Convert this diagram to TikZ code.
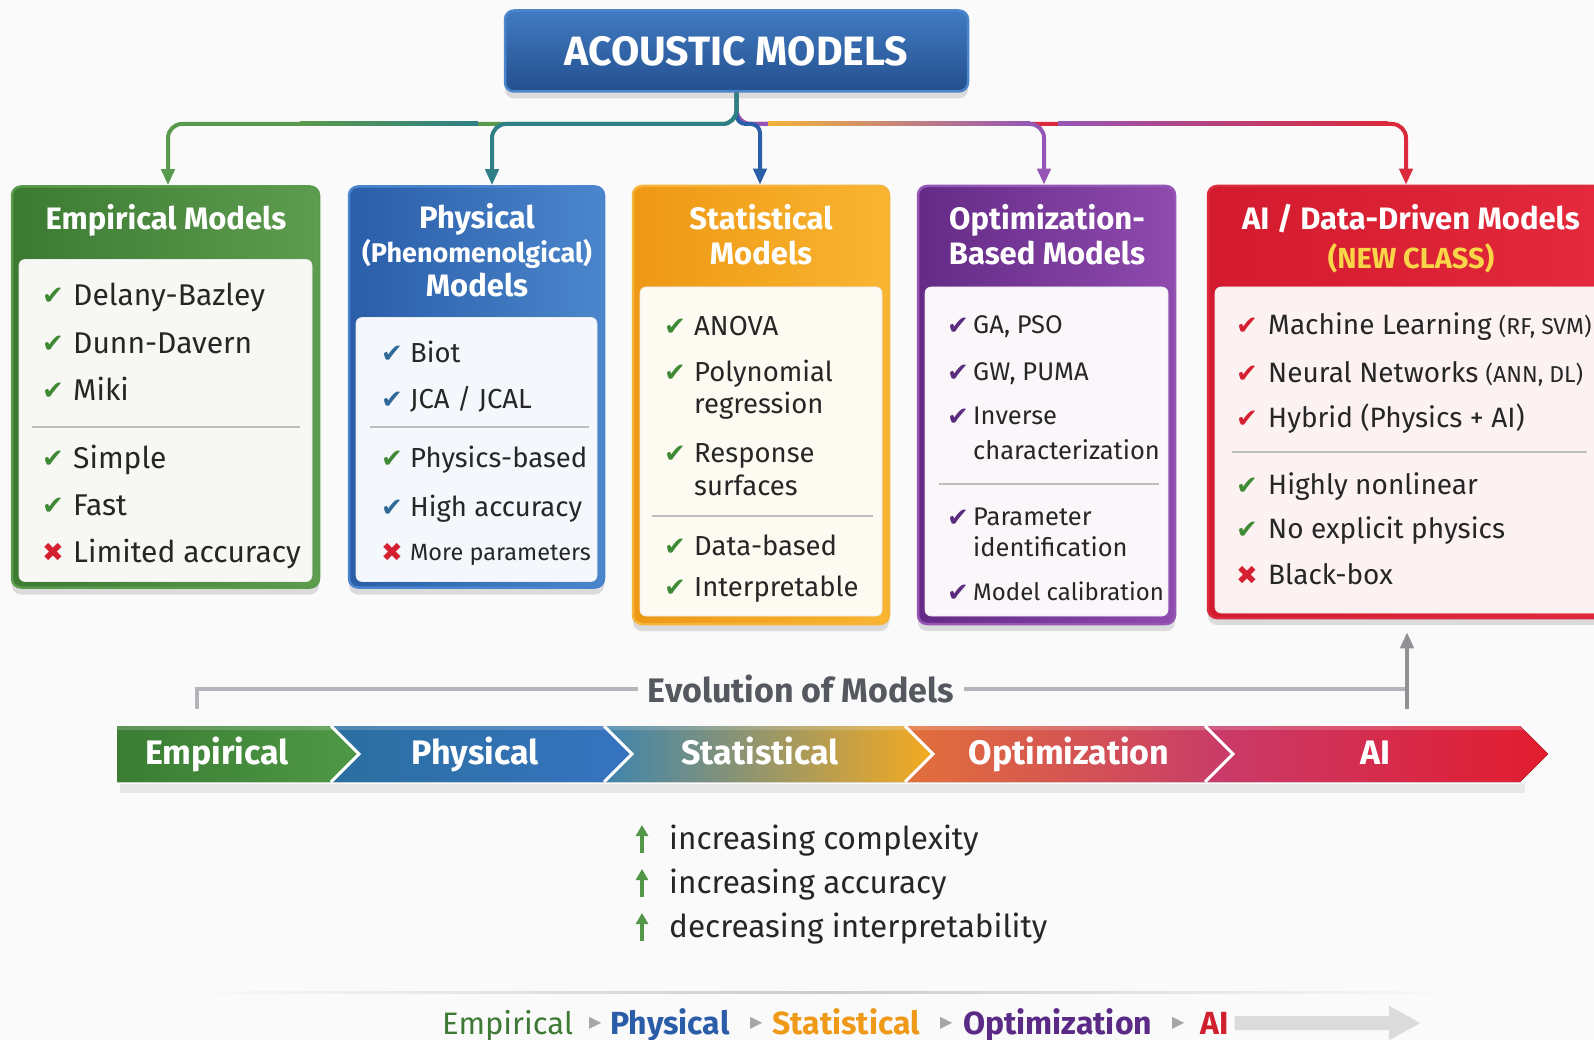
\documentclass[tikz,border=0pt]{standalone}
\usepackage{fontspec}
\setmainfont{Fira Sans}
\newfontfamily\sym{DejaVu Sans}
\usetikzlibrary{arrows.meta,shadows,calc}

\definecolor{bgc}{HTML}{FAFAFA}
\definecolor{txt}{HTML}{262626}
\definecolor{grA}{HTML}{3B7A31}
\definecolor{grB}{HTML}{5E9C50}
\definecolor{grL}{HTML}{5A9A4C}
\definecolor{blA}{HTML}{2A5EA8}
\definecolor{blB}{HTML}{4B86CC}
\definecolor{blL}{HTML}{4A84CE}
\definecolor{orA}{HTML}{EE9814}
\definecolor{orB}{HTML}{F9B531}
\definecolor{orL}{HTML}{F5B33A}
\definecolor{puA}{HTML}{642A86}
\definecolor{puB}{HTML}{8F4BAE}
\definecolor{puL}{HTML}{9656B6}
\definecolor{rdA}{HTML}{D31A2E}
\definecolor{rdB}{HTML}{E42A3C}
\definecolor{rdL}{HTML}{DA2A3C}
\definecolor{teL}{HTML}{2E7F86}
\definecolor{ckG}{HTML}{3F8A34}
\definecolor{ckB}{HTML}{2F6A98}
\definecolor{ckP}{HTML}{5A2C7E}
\definecolor{ckR}{HTML}{D42030}
\definecolor{sepc}{HTML}{BDBDBD}
\definecolor{evo}{HTML}{B4B4BA}
\definecolor{evt}{HTML}{55595F}
\definecolor{ylw}{HTML}{F8D648}
\definecolor{pn1}{HTML}{F7F8F3}
\definecolor{pn2}{HTML}{F4F7FB}
\definecolor{pn3}{HTML}{FDFAF1}
\definecolor{pn4}{HTML}{FAF6FA}
\definecolor{pn5}{HTML}{FCF2F2}
\definecolor{cv1a}{HTML}{3A7D33}
\definecolor{cv1b}{HTML}{4F9846}
\definecolor{cv2a}{HTML}{2B6FA0}
\definecolor{cv2b}{HTML}{3673C0}
\definecolor{cv3a}{HTML}{3F84AE}
\definecolor{cv3m}{HTML}{EBA42A}
\definecolor{cv3b}{HTML}{F5AA20}
\definecolor{cv4a}{HTML}{E2703A}
\definecolor{cv4m}{HTML}{D24A5E}
\definecolor{cv4b}{HTML}{C83A6A}
\definecolor{cv5a}{HTML}{C83C6C}
\definecolor{cv5m}{HTML}{DC2440}
\definecolor{cv5b}{HTML}{E21C2E}
\definecolor{lgG}{HTML}{3E7A35}
\definecolor{lgB}{HTML}{2A5CA8}
\definecolor{lgO}{HTML}{EE9A18}
\definecolor{lgP}{HTML}{5A2A86}
\definecolor{lgR}{HTML}{D0202E}

% name, check x, text x, y, colour, symbol, text, font size
\newcommand\irow[8]{%
  \node[ckn,text=#5] (#1c) at (#2,#4) {#6};
  \node[itm, font=\fontsize{#8}{#8}\selectfont, yshift={-0.35*#8pt}] (#1) at (#3,#4) {#7};}

\begin{document}
\begin{tikzpicture}[x=1pt,y=-1pt,
  box/.style={rounded corners=9pt, line width=2.5pt,
    drop shadow={shadow xshift=0pt, shadow yshift=-7pt, opacity=0.12, fill=black}},
  panel/.style={rounded corners=6pt, draw=black!8, line width=0.6pt},
  hdr/.style={anchor=base, text=white, font=\bfseries\fontsize{31}{34}\selectfont, inner sep=0pt, yshift=-10.8pt},
  itm/.style={anchor=base west, text=txt, inner sep=0pt},
  ckn/.style={anchor=base west, font=\sym\fontsize{26}{26}\selectfont, inner sep=0pt, yshift=-9.5pt},
  sepl/.style={draw=sepc, line width=1.2pt},
  conn/.style={line width=4pt, rounded corners=14pt, -{Triangle[length=16pt,width=13pt]}},
  chev/.style={anchor=base, text=white, font=\bfseries\fontsize{34}{34}\selectfont, inner sep=0pt, yshift=-11.9pt},
  leg/.style={anchor=base west, font=\bfseries\fontsize{32}{32}\selectfont, inner sep=0pt, yshift=-11.2pt},
  tri/.style={anchor=west, text=gray!70, font=\sym\fontsize{16}{16}\selectfont, inner sep=0pt},
  up/.style={draw=ckG!90!white, line width=3.5pt, -{Triangle[length=11pt,width=12pt]}},
  sepw/.style={draw=white, line width=3pt}
]
\useasboundingbox (0,0) rectangle (1594,1040);
\fill[bgc] (0,0) rectangle (1594,1040);

% ---------- title ----------
\node[box, draw=blB, top color=blB!70!blA, bottom color=blA!85!black,
  minimum width=463pt, minimum height=81pt, text=white,
  font=\bfseries\fontsize{41}{41}\selectfont] (t) at (736.5,51) {ACOUSTIC MODELS};

% ---------- boxes ----------
\node[box, draw=grL, left color=grA, right color=grB, minimum width=307pt, minimum height=401pt] (b1) at (165.5,387) {};
\node[panel, fill=pn1, minimum width=293pt, minimum height=322pt] (p1) at (165.5,420.5) {};
\node[box, draw=blL, left color=blA, right color=blB, minimum width=255pt, minimum height=401pt] (b2) at (476.5,387) {};
\node[panel, fill=pn2, minimum width=241pt, minimum height=264pt] (p2) at (476.5,449.5) {};
\node[box, draw=orL, left color=orA, right color=orB, minimum width=256pt, minimum height=438pt] (b3) at (761,405) {};
\node[panel, fill=pn3, minimum width=242pt, minimum height=329pt] (p3) at (761,451.5) {};
\node[box, draw=puL, left color=puA, right color=puB, minimum width=257pt, minimum height=438pt] (b4) at (1046.5,405) {};
\node[panel, fill=pn4, minimum width=243pt, minimum height=329pt] (p4) at (1046.5,451.5) {};
\node[box, draw=rdL, left color=rdA, right color=rdB, minimum width=406pt, minimum height=432pt] (b5) at (1411,402) {};
\node[panel, fill=pn5, minimum width=392pt, minimum height=326pt] (p5) at (1411,450) {};

% ---------- connectors ----------
\coordinate (d1) at (168,124);
\coordinate (d2) at (492,124);
\coordinate (d3) at (760,124);
\coordinate (d4) at (1044,124);
\coordinate (d5) at (1406,124);
\draw[conn, rdL] (t.south) |- (d5) -- (d5 |- b5.north);
\draw[conn, puL] (t.south) |- (d4) -- (d4 |- b4.north);
\draw[conn, blA, rounded corners=9pt] (t.south) |- (d3) -- (d3 |- b3.north);
\draw[conn, grL] (t.south) |- (d1) -- (d1 |- b1.north);
\draw[conn, teL] (t.south) |- (d2) -- (d2 |- b2.north);
% colour blends along the shared horizontal run
\fill[left color=orL, right color=puL] (768,122) rectangle (1030,126);
\fill[left color=puL, right color=rdL] (1058,122) rectangle (1388,126);
\fill[left color=grL, right color=teL] (300,122) rectangle (478,126);

% ---------- headers ----------
\node[hdr] (h1) at (166,219) {Empirical Models};
\node[hdr] (h2a) at (477,218) {Physical};
\node[hdr, font=\bfseries\fontsize{27}{27}\selectfont, yshift=1.4pt] (h2b) at (477,253) {(Phenomenolgical)};
\node[hdr] (h2c) at (477,286) {Models};
\node[hdr] (h3a) at (761,219) {Statistical};
\node[hdr] (h3b) at (761,254) {Models};
\node[hdr] (h4a) at (1047,219) {Optimization-};
\node[hdr] (h4b) at (1047,254) {Based Models};
\node[hdr] (h5a) at (1411,219) {AI / Data-Driven Models};
\node[hdr, text=ylw, font=\bfseries\fontsize{29}{29}\selectfont, yshift=0.7pt] (h5b) at (1411,258) {(NEW CLASS)};

% ---------- empirical items ----------
\irow{e1}{42}{73}{295}{ckG}{✔}{Delany-Bazley}{30}
\irow{e2}{42}{73}{343}{ckG}{✔}{Dunn-Davern}{30}
\irow{e3}{42}{73}{390}{ckG}{✔}{Miki}{30}
\draw[sepl] (32,427) -- (300,427);
\irow{e4}{42}{73}{458}{ckG}{✔}{Simple}{30}
\irow{e5}{42}{73}{505}{ckG}{✔}{Fast}{30}
\irow{e6}{42}{73}{552}{ckR}{✖}{Limited accuracy}{30}

% ---------- physical items ----------
\irow{f1}{381}{410}{353}{ckB}{✔}{Biot}{27.5}
\irow{f2}{381}{410}{399}{ckB}{✔}{JCA / JCAL}{27.5}
\draw[sepl] (370,427) -- (589,427);
\irow{f3}{381}{410}{458}{ckG}{✔}{Physics-based}{27.5}
\irow{f4}{381}{410}{507}{ckB}{✔}{High accuracy}{27.5}
\irow{f5}{381}{410}{552}{ckR}{✖}{More parameters}{23.5}

% ---------- statistical items ----------
\irow{s1}{664}{694}{326}{ckG}{✔}{ANOVA}{27.5}
\irow{s2}{664}{694}{372}{ckG}{✔}{Polynomial}{27.5}
\node[itm, font=\fontsize{27.5}{27.5}\selectfont, yshift=-9.6pt] (s2b) at (694,404) {regression};
\irow{s3}{664}{694}{453}{ckG}{✔}{Response}{27.5}
\node[itm, font=\fontsize{27.5}{27.5}\selectfont, yshift=-9.6pt] (s3b) at (694,486) {surfaces};
\draw[sepl] (652,516) -- (873,516);
\irow{s4}{664}{694}{546}{ckG}{✔}{Data-based}{27.5}
\irow{s5}{664}{694}{587}{ckG}{✔}{Interpretable}{27.5}

% ---------- optimization items ----------
\irow{o1}{947}{973}{325}{ckP}{✔}{GA, PSO}{25.5}
\irow{o2}{947}{973}{372}{ckP}{✔}{GW, PUMA}{25.5}
\irow{o3}{947}{973}{416}{ckP}{✔}{Inverse}{25.5}
\node[itm, font=\fontsize{25.5}{25.5}\selectfont, yshift=-8.9pt] (o3b) at (973,451) {characterization};
\draw[sepl] (939,484) -- (1159,484);
\irow{o4}{947}{973}{517}{ckP}{✔}{Parameter}{25.5}
\node[itm, font=\fontsize{25.5}{25.5}\selectfont, yshift=-8.9pt] (o4b) at (973,548) {identification};
\irow{o5}{947}{973}{592}{ckP}{✔}{Model calibration}{24}

% ---------- AI items ----------
\irow{a1}{1236}{1268}{325}{ckR}{✔}{Machine Learning {\fontsize{23}{23}\selectfont(RF, SVM)}}{28}
\irow{a2}{1236}{1268}{373}{ckR}{✔}{Neural Networks {\fontsize{23}{23}\selectfont(ANN, DL)}}{28}
\irow{a3}{1236}{1268}{418}{ckR}{✔}{Hybrid (Physics + AI)}{28}
\draw[sepl] (1232,452) -- (1587,452);
\irow{a4}{1236}{1268}{485}{ckG}{✔}{Highly nonlinear}{28}
\irow{a5}{1236}{1268}{529}{ckG}{✔}{No explicit physics}{28}
\irow{a6}{1236}{1268}{575}{ckR}{✖}{Black-box}{28}

% ---------- evolution bracket ----------
\node[font=\bfseries\fontsize{34}{34}\selectfont, text=evt, inner sep=10pt] (ev) at (801,689) {Evolution of Models};
\coordinate (el) at (197,709);
\coordinate (er) at (1407,709);
\draw[evo, line width=4pt] (el) |- (ev.west);
\draw[evo, line width=4pt] (ev.east) -- (ev.east -| er);
\draw[evo!80!black, line width=4pt, -{Triangle[length=16pt,width=13pt]}, shorten >=13pt] (er) -- (er |- b5.south);

% ---------- chevron bar ----------
\fill[black, opacity=0.07] (120,784) rectangle (1525,793);
\fill[left color=cv1a, right color=cv1b] (117,726) -- (331,726) -- (359,754) -- (331,782) -- (117,782) -- cycle;
\fill[left color=cv2a, right color=cv2b] (331,726) -- (604,726) -- (632,754) -- (604,782) -- (331,782) -- (359,754) -- cycle;
\fill[left color=cv3a, middle color=cv3m, right color=cv3b] (604,726) -- (905,726) -- (933,754) -- (905,782) -- (604,782) -- (632,754) -- cycle;
\fill[left color=cv4a, middle color=cv4m, right color=cv4b] (905,726) -- (1205,726) -- (1233,754) -- (1205,782) -- (905,782) -- (933,754) -- cycle;
\fill[left color=cv5a, middle color=cv5m, right color=cv5b] (1205,726) -- (1520,726) -- (1548,754) -- (1520,782) -- (1205,782) -- (1233,754) -- cycle;
\fill[white, opacity=0.18] (117,726) -- (1520,726) -- (1524,730) -- (117,730) -- cycle;
\draw[sepw] (331,726) -- (359,754) -- (331,782);
\draw[sepw] (604,726) -- (632,754) -- (604,782);
\draw[sepw] (905,726) -- (933,754) -- (905,782);
\draw[sepw] (1205,726) -- (1233,754) -- (1205,782);
\node[chev] (c1) at (217,753) {Empirical};
\node[chev] (c2) at (475,753) {Physical};
\node[chev] (c3) at (760,753) {Statistical};
\node[chev] (c4) at (1069,753) {Optimization};
\node[chev] (c5) at (1375,753) {AI};

% ---------- trends ----------
\node[itm, font=\fontsize{31.5}{31.5}\selectfont] (l1) at (669,849) {increasing complexity};
\node[itm, font=\fontsize{31.5}{31.5}\selectfont] (l2) at (669,893) {increasing accuracy};
\node[itm, font=\fontsize{31.5}{31.5}\selectfont] (l3) at (669,937) {decreasing interpretability};
\draw[up] ($(l1.base west)+(-27,4)$) -- ++(0,-28);
\draw[up] ($(l2.base west)+(-27,4)$) -- ++(0,-28);
\draw[up] ($(l3.base west)+(-27,4)$) -- ++(0,-28);

% ---------- legend ----------
\fill[left color=bgc, right color=bgc, middle color=gray!40] (183,991) rectangle (1464,993.5);
\node[leg, font=\fontsize{31}{31}\selectfont, text=lgG] (g1) at (442,1023) {Empirical};
\node[tri] (g2) at (589,1023) {▶};
\node[leg, text=lgB] (g3) at (610,1023) {Physical};
\node[tri] (g4) at (750,1023) {▶};
\node[leg, text=lgO] (g5) at (772,1023) {Statistical};
\node[tri] (g6) at (940,1023) {▶};
\node[leg, text=lgP] (g7) at (963,1023) {Optimization};
\node[tri] (g8) at (1172,1023) {▶};
\node[leg, text=lgR] (g9) at (1200,1023) {AI};
\draw[gray!28, line width=14pt, -{Triangle[length=32pt,width=32pt]}] ($(g9.east)+(6,0)$) -- (1421,1023);
\end{tikzpicture}
\end{document}
